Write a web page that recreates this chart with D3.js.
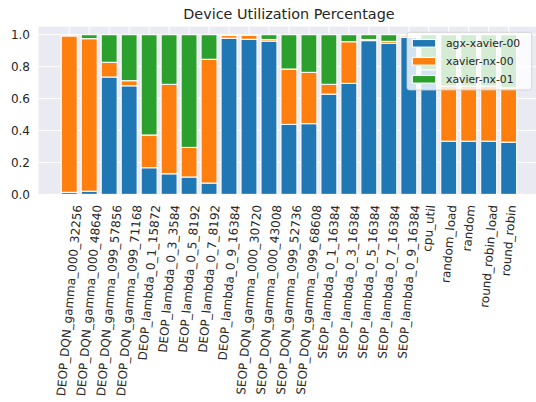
<!DOCTYPE html>
<html>
<head>
<meta charset="utf-8">
<script src="https://cdn.jsdelivr.net/npm/d3@7.9.0/dist/d3.min.js"></script>
<style>
  body { margin: 0; background: #fff; }
  svg { display: block; font-family: 'DejaVu Sans', sans-serif; }
</style>
</head>
<body>
<svg id="chart" width="536" height="402"></svg>
<script>
const categories = [
  'DEOP_DQN_gamma_000_32256', 'DEOP_DQN_gamma_000_48640', 'DEOP_DQN_gamma_099_57856',
  'DEOP_DQN_gamma_099_71168', 'DEOP_lambda_0_1_15872', 'DEOP_lambda_0_3_3584',
  'DEOP_lambda_0_5_8192', 'DEOP_lambda_0_7_8192', 'DEOP_lambda_0_9_16384',
  'SEOP_DQN_gamma_000_30720', 'SEOP_DQN_gamma_000_43008', 'SEOP_DQN_gamma_099_52736',
  'SEOP_DQN_gamma_099_68608', 'SEOP_lambda_0_1_16384', 'SEOP_lambda_0_3_16384',
  'SEOP_lambda_0_5_16384', 'SEOP_lambda_0_7_16384', 'SEOP_lambda_0_9_16384',
  'cpu_util', 'random_load', 'random', 'round_robin_load', 'round_robin'
];

const agxXavier00 = [0.013, 0.020, 0.735, 0.680, 0.167, 0.129, 0.109, 0.071, 0.978,
  0.971, 0.960, 0.438, 0.443, 0.628, 0.695, 0.963, 0.946, 0.983,
  0.780, 0.333, 0.333, 0.333, 0.327];
const xavierNx00 = [0.978, 0.955, 0.092, 0.032, 0.205, 0.560, 0.185, 0.775, 0.017,
  0.025, 0.010, 0.347, 0.321, 0.061, 0.261, 0.007, 0.012, 0.010,
  0.000, 0.345, 0.345, 0.345, 0.340];
const xavierNx01 = [0.000, 0.025, 0.173, 0.288, 0.628, 0.311, 0.706, 0.154, 0.005,
  0.004, 0.030, 0.215, 0.236, 0.311, 0.044, 0.030, 0.042, 0.007,
  0.220, 0.322, 0.322, 0.322, 0.333];

const seriesNames = ['agx-xavier-00', 'xavier-nx-00', 'xavier-nx-01'];
const seriesColors = ['#1f77b4', '#ff7f0e', '#2ca02c'];
const yTicks = [0.0, 0.2, 0.4, 0.6, 0.8, 1.0];

let svg = d3.select('#chart');
let margin = { left: 38.5, right: 539.4, top: 26.7, bottom: 194.4 };

let x = d3.scaleLinear().domain([-1.54, 23.54]).range([margin.left, margin.right]);
let y = d3.scaleLinear().domain([0, 1.05]).range([margin.bottom, margin.top]);
let barW = x(0.8) - x(0);

// Background + grid
svg.append('rect')
  .attr('x', margin.left).attr('y', margin.top)
  .attr('width', margin.right - margin.left)
  .attr('height', margin.bottom - margin.top)
  .attr('fill', '#eaeaf2');

let grid = svg.append('g').attr('stroke', '#fff').attr('stroke-width', 1);
yTicks.forEach((t) => {
  grid.append('line')
    .attr('x1', margin.left).attr('x2', margin.right)
    .attr('y1', y(t)).attr('y2', y(t));
});
categories.forEach((c, i) => {
  grid.append('line')
    .attr('x1', x(i)).attr('x2', x(i))
    .attr('y1', margin.top).attr('y2', margin.bottom);
});

// Stacked bars
let rows = categories.map((c, i) => ({
  name: c,
  'agx-xavier-00': agxXavier00[i],
  'xavier-nx-00': xavierNx00[i],
  'xavier-nx-01': xavierNx01[i],
}));
let stacked = d3.stack().keys(seriesNames)(rows);

stacked.forEach((layer, k) => {
  svg.append('g')
    .selectAll('rect')
    .data(layer)
    .join('rect')
    .attr('x', (d, i) => x(i) - barW / 2)
    .attr('width', barW)
    .attr('y', (d) => y(d[1]))
    .attr('height', (d) => Math.max(0, y(d[0]) - y(d[1])))
    .attr('fill', seriesColors[k])
    .attr('stroke', '#fff')
    .attr('stroke-width', 1.1);
});

// Y tick labels
svg.append('g')
  .selectAll('text')
  .data(yTicks)
  .join('text')
  .attr('x', 30)
  .attr('y', (d) => y(d))
  .attr('dy', '0.35em')
  .attr('text-anchor', 'end')
  .attr('font-size', 12)
  .attr('fill', '#262626')
  .text((d) => d3.format('.1f')(d));

// X tick labels, rotated 85deg
let rot = 85;
let xLabels = svg.append('g');
categories.forEach((c, i) => {
  let t = xLabels.append('text')
    .attr('font-size', 12)
    .attr('fill', '#262626')
    .attr('text-anchor', 'end')
    .attr('dy', '0.35em')
    .text(c);
  let len = t.node().getComputedTextLength();
  let ax = x(i) + (len / 2) * Math.cos(rot * Math.PI / 180);
  let ay = 205;
  t.attr('transform', `translate(${ax},${ay}) rotate(${-rot})`);
});

// Title
svg.append('text')
  .attr('x', (margin.left + margin.right) / 2)
  .attr('y', 19)
  .attr('text-anchor', 'middle')
  .attr('font-size', 14.4)
  .attr('fill', '#262626')
  .text('Device Utilization Percentage');

// Legend
let legend = svg.append('g');
legend.append('rect')
  .attr('x', 407).attr('y', 32.3)
  .attr('width', 124.7).attr('height', 57.7)
  .attr('rx', 2.5)
  .attr('fill', '#fff').attr('fill-opacity', 0.8)
  .attr('stroke', '#cccccc').attr('stroke-opacity', 0.8);

seriesNames.forEach((name, k) => {
  let cy = 43.3 + k * 18;
  legend.append('rect')
    .attr('x', 412.3).attr('y', cy - 3.8)
    .attr('width', 23.4).attr('height', 7.6)
    .attr('fill', seriesColors[k])
    .attr('stroke', '#fff').attr('stroke-width', 1.1);
  legend.append('text')
    .attr('x', 446)
    .attr('y', cy)
    .attr('dy', '0.35em')
    .attr('font-size', 10.8)
    .attr('fill', '#262626')
    .text(name);
});
</script>
</body>
</html>
